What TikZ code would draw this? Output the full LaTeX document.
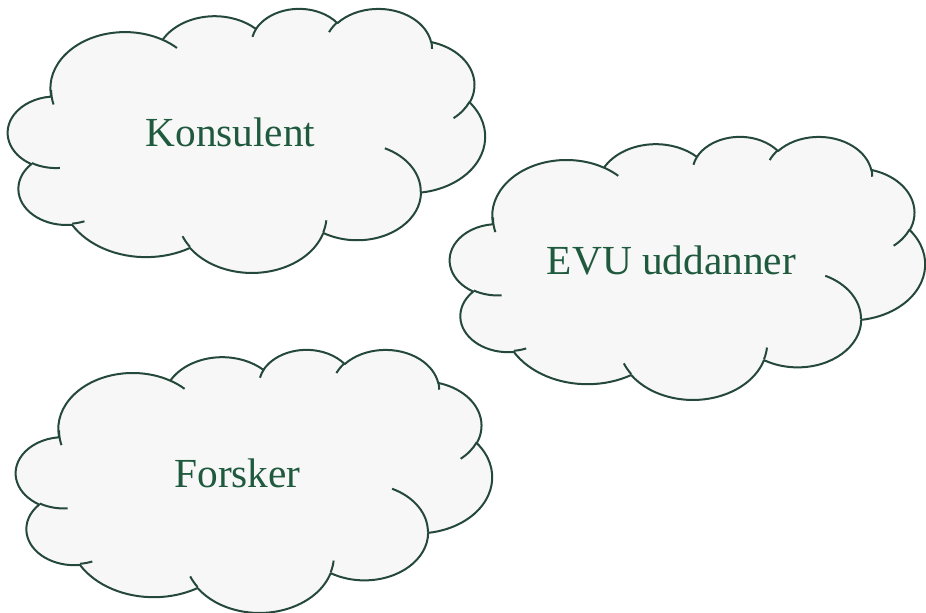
\documentclass[tikz,border=0pt]{standalone}
\usepackage{fontspec}
\setmainfont{Liberation Serif}
\definecolor{cloudgreen}{HTML}{24483A}
\definecolor{textgreen}{HTML}{1F5A3E}
\definecolor{cloudfill}{HTML}{F7F7F7}

\begin{document}
\begin{tikzpicture}[
    x=0.75pt, y=-0.75pt,
    cloudline/.style={draw=cloudgreen, line width=1.5pt, line join=round},
    role/.style={text=textgreen, font=\fontsize{31}{36}\selectfont, anchor=base, inner sep=0pt},
    thoughtcloud/.pic={
        % outline of the cloud, 11 bumps
        \draw[cloudline, fill=cloudfill] (3.900,14.370)
            \foreach \rx/\ry/\st/\sw [evaluate=\st as \tstart using {atan2(\rx*sin(\st),\ry*cos(\st))},
                                      evaluate=\st as \tdelta using {mod(atan2(\rx*sin(\st+\sw),\ry*cos(\st+\sw))-\tstart+720,360)}]
            in {6.753/9.190/-190.4875/123.7805, 5.333/7.267/-144.1024/89.9452,
                4.365/5.945/-145.8079/99.7230, 4.857/6.595/-130.9861/117.2417,
                5.333/7.273/-78.7089/109.0269, 6.775/9.220/-46.2673/130.2690,
                5.785/7.867/0.6250/114.0333, 6.752/9.215/22.4516/115.1726,
                7.720/10.543/66.2426/75.7110, 4.360/5.918/-274.9421/146.7356,
                4.345/5.945/-246.8285/152.5189}
            { arc[x radius=\rx, y radius=\ry, start angle=\tstart, delta angle=\tdelta] } -- cycle;
        % small inner arcs
        \draw[cloudline]
            \foreach \px/\py/\rx/\ry/\st/\sw [evaluate=\st as \tstart using {atan2(\rx*sin(\st),\ry*cos(\st))},
                                              evaluate=\st as \tdelta using {mod(atan2(\rx*sin(\st+\sw),\ry*cos(\st+\sw))-\tstart+720,360)}]
            in {4.693/26.177/4.345/5.945/86.7420/26.4295,
                6.928/34.899/4.360/5.918/73.6105/11.4475,
                16.478/39.090/6.752/9.215/137.6242/14.0811,
                28.827/34.751/6.752/9.215/6.4533/15.9984,
                34.129/22.954/5.785/7.867/-70.2924/70.9174,
                41.798/15.354/5.333/7.273/30.3180/27.7515,
                38.324/5.426/4.857/6.595/-13.7443/14.8514,
                29.078/3.952/4.857/6.595/-149.1815/18.1885,
                22.141/4.720/4.365/5.945/-163.4943/17.6942,
                14.000/5.192/6.753/9.190/-66.7070/12.3194,
                4.127/15.789/6.753/9.190/160.4553/20.2485}
            { (\px,\py) arc[x radius=\rx, y radius=\ry, start angle=\tstart, delta angle=\tdelta] };
    }
]
\useasboundingbox (0,0) rectangle (926,613);

% the three clouds
\pic[xscale=11.042, yscale=6.111] at (8,8) {thoughtcloud};
\pic[xscale=10.995, yscale=6.088] at (450,136) {thoughtcloud};
\pic[xscale=11.019, yscale=6.088] at (16,349) {thoughtcloud};

% roles
\node[role] (konsulent) at (230.5,147) {Konsulent};
\node[role] (evu) at (671.5,275) {EVU uddanner};
\node[role] (forsker) at (237.5,488) {Forsker};

\end{tikzpicture}
\end{document}
